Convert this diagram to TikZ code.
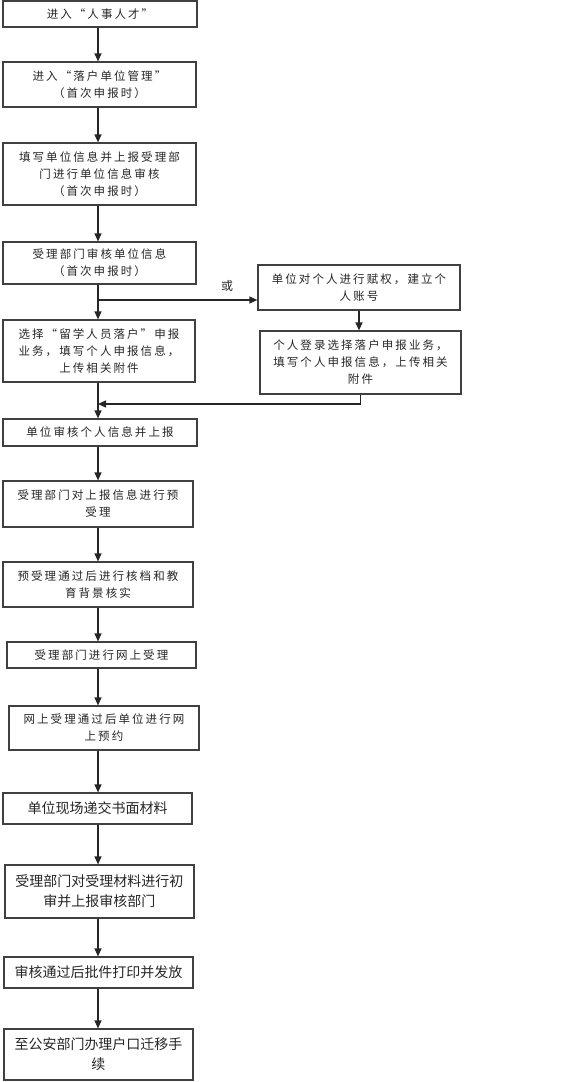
\documentclass[tikz,border=0pt]{standalone}
\usepackage{fontspec}
\setmainfont{Noto Sans CJK SC}
\newfontfamily\cjkspaced[LetterSpace=18]{Noto Sans CJK SC}
\usetikzlibrary{arrows.meta}
\tikzset{
  box/.style={draw=black!75, line width=1.2pt, fill=white, align=center, inner sep=2pt, text=black!85},
  sbox/.style={box, font=\cjkspaced\fontsize{11.5}{17}\selectfont},
  bbox/.style={box, font=\fontsize{14}{20}\selectfont},
  arr/.style={line width=1.2pt, draw=black!85, -{Triangle[length=8pt,width=7pt]}},
}
\begin{document}
\begin{tikzpicture}[x=1pt,y=-1pt]
  \useasboundingbox (0,0) rectangle (576,1082);
  \coordinate (spine) at (98,0);
  % main column
  \node[sbox, minimum width=194, minimum height=26] (start) at (100,14) {进入“人事人才”};
  \node[sbox, minimum width=193, minimum height=45] (mgmt) at (99.5,84.5) {进入“落户单位管理”\\（首次申报时）};
  \node[sbox, minimum width=193, minimum height=62] (fillin) at (99.5,174) {填写单位信息并上报受理部\\门进行单位信息审核\\（首次申报时）};
  \node[sbox, minimum width=193, minimum height=42] (verify) at (99.5,263) {受理部门审核单位信息\\（首次申报时）};
  \node[sbox, minimum width=192, minimum height=62] (choose) at (99,351) {选择“留学人员落户”申报\\业务，填写个人申报信息，\\上传相关附件};
  \node[sbox, minimum width=194, minimum height=27] (report) at (100,432.5) {单位审核个人信息并上报};
  \node[sbox, minimum width=190, minimum height=46] (pre) at (98,504) {受理部门对上报信息进行预\\受理};
  \node[sbox, minimum width=190, minimum height=45] (archive) at (98,584.5) {预受理通过后进行核档和教\\育背景核实};
  \node[sbox, minimum width=189, minimum height=26] (online) at (101.5,655) {受理部门进行网上受理};
  \node[sbox, minimum width=190, minimum height=44] (booking) at (104,728) {网上受理通过后单位进行网\\上预约};
  \node[bbox, minimum width=189, minimum height=31] (submit) at (97.5,808.5) {单位现场递交书面材料};
  \node[bbox, minimum width=189, minimum height=53] (first) at (99.5,891.5) {受理部门对受理材料进行初\\审并上报审核部门};
  \node[bbox, minimum width=189, minimum height=31] (print) at (98.5,972.5) {审核通过后批件打印并发放};
  \node[bbox, minimum width=189, minimum height=51] (police) at (98.5,1054.5) {至公安部门办理户口迁移手\\续};
  % side branch
  \node[sbox, minimum width=202, minimum height=45] (grant) at (359,287.5) {单位对个人进行赋权，建立个\\人账号};
  \node[sbox, minimum width=201, minimum height=63] (login) at (360.5,362.5) {个人登录选择落户申报业务，\\填写个人申报信息，上传相关\\附件};
  \node[font=\fontsize{12}{14}\selectfont, text=black!85] (or) at (227,286) {或};

  \draw[arr] (start.south -| spine) -- (mgmt.north -| spine);
  \draw[arr] (mgmt.south -| spine) -- (fillin.north -| spine);
  \draw[arr] (fillin.south -| spine) -- (verify.north -| spine);
  \draw[arr] (verify.south -| spine) -- (choose.north -| spine);
  \coordinate (fork) at (98,300);
  \draw[arr] (fork) -- (fork -| grant.west);
  \draw[arr] (grant.south) -- (grant.south |- login.north);
  \coordinate (join) at (98,404);
  \draw[arr] (login.south) -- (login.south |- join) -- (join);
  \draw[arr] (choose.south -| spine) -- (report.north -| spine);
  \draw[arr] (report.south -| spine) -- (pre.north -| spine);
  \draw[arr] (pre.south -| spine) -- (archive.north -| spine);
  \draw[arr] (archive.south -| spine) -- (online.north -| spine);
  \draw[arr] (online.south -| spine) -- (booking.north -| spine);
  \draw[arr] (booking.south -| spine) -- (submit.north -| spine);
  \draw[arr] (submit.south -| spine) -- (first.north -| spine);
  \draw[arr] (first.south -| spine) -- (print.north -| spine);
  \draw[arr] (print.south -| spine) -- (police.north -| spine);
\end{tikzpicture}
\end{document}
